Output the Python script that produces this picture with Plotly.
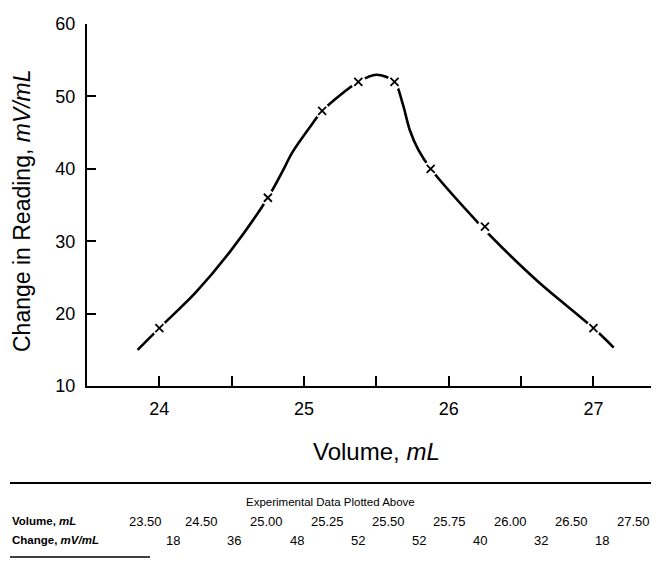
import plotly.graph_objects as go

# ---- data ----
volume_labels = ["23.50", "24.50", "25.00", "25.25", "25.50", "25.75", "26.00", "26.50", "27.50"]
volumes = [23.50, 24.50, 25.00, 25.25, 25.50, 25.75, 26.00, 26.50, 27.50]
changes = [18, 36, 48, 52, 52, 40, 32, 18]
# hand-drawn smooth curve (guide points)
curve_x = [23.85, 24.0, 24.25, 24.49, 24.75, 24.85, 24.92, 25.06, 25.125, 25.375, 25.5, 25.625,
           25.68, 25.73, 25.79, 25.875, 26.2, 26.37, 26.63, 27.0, 27.14]
curve_y = [15.0, 18, 22.9, 28.6, 36, 39.6, 42.3, 46.3, 48, 52, 53, 52,
           49.1, 45.4, 42.6, 40, 32.6, 29.1, 24.2, 18, 15.3]
x_ticks = [24, 24.5, 25, 25.5, 26, 26.5, 27]
x_tick_text = ["24", "", "25", "", "26", "", "27"]
y_ticks = [10, 20, 30, 40, 50, 60]

# midpoints where the derivative values are plotted
mid_x = [(volumes[i] + volumes[i + 1]) / 2 for i in range(len(volumes) - 1)]

FONT = "Liberation Sans, Arial, Helvetica, sans-serif"
OFF = 8                      # page body margin
SW, SH = 659, 568            # screen size
L, R, T, B = 87, 4, 24, 182  # screen-based plot box
PW, PH = SW - L - R, SH - T - B


def px(x):
    return (x - L) / PW


def py(y):
    return (SH - B - y) / PH


fig = go.Figure()
fig.add_trace(go.Scatter(x=curve_x, y=curve_y, mode="lines",
                         line=dict(color="black", width=2.6, shape="spline", smoothing=0.9),
                         hoverinfo="skip", showlegend=False))
fig.add_trace(go.Scatter(x=mid_x, y=changes, mode="markers",
                         marker=dict(symbol="circle", size=15, color="white", line=dict(width=0)),
                         hoverinfo="skip", showlegend=False))
fig.add_trace(go.Scatter(x=mid_x, y=changes, mode="markers",
                         marker=dict(symbol="x-thin", size=8, color="black",
                                     line=dict(width=1.8, color="black")),
                         showlegend=False))

fig.update_xaxes(range=[23.5, 23.5 + PW / 144.7], tickvals=x_ticks, ticktext=x_tick_text,
                 ticks="inside", ticklen=10, tickwidth=1.6, tickcolor="black",
                 showline=True, linecolor="black", linewidth=2, showgrid=False, zeroline=False,
                 tickfont=dict(family=FONT, size=18, color="black"), ticklabelstandoff=5)
fig.update_yaxes(range=[10, 60], tickvals=y_ticks,
                 ticks="inside", ticklen=9, tickwidth=1.6, tickcolor="black",
                 showline=True, linecolor="black", linewidth=2, showgrid=False, zeroline=False,
                 tickfont=dict(family=FONT, size=18, color="black"), ticklabelstandoff=6)

ann = []
ann.append(dict(text="Volume, <i>mL</i>", x=px(376), y=py(451), xref="paper", yref="paper",
                showarrow=False, font=dict(family=FONT, size=24, color="black"),
                xanchor="center", yanchor="middle"))
ann.append(dict(text="Change in Reading, <i>mV/mL</i>", x=px(22), y=py(211), xref="paper", yref="paper",
                showarrow=False, textangle=-90, font=dict(family=FONT, size=23, color="black"),
                xanchor="center", yanchor="middle", borderpad=0))
ann.append(dict(text="Experimental Data Plotted Above", x=px(330), y=py(502), xref="paper", yref="paper",
                showarrow=False, font=dict(family=FONT, size=11.5, color="black"),
                xanchor="center", yanchor="middle"))
ann.append(dict(text="<b>Volume, <i>mL</i></b>", x=px(10), y=py(521), xref="paper", yref="paper",
                showarrow=False, font=dict(family=FONT, size=11.5, color="black"),
                xanchor="left", yanchor="middle"))
ann.append(dict(text="<b>Change, <i>mV/mL</i></b>", x=px(10), y=py(540), xref="paper", yref="paper",
                showarrow=False, font=dict(family=FONT, size=11.5, color="black"),
                xanchor="left", yanchor="middle"))

col_x = [145, 201, 266, 327, 388, 449, 510, 571, 633]
for cx, lab in zip(col_x, volume_labels):
    ann.append(dict(text=lab, x=px(cx), y=py(521), xref="paper", yref="paper", showarrow=False,
                    font=dict(family=FONT, size=13, color="black"), xanchor="center", yanchor="middle"))
for i, v in enumerate(changes):
    cx = (col_x[i] + col_x[i + 1]) / 2
    ann.append(dict(text=str(v), x=px(cx), y=py(540), xref="paper", yref="paper", showarrow=False,
                    font=dict(family=FONT, size=13, color="black"), xanchor="center", yanchor="middle"))

shapes = [
    dict(type="line", xref="paper", yref="paper", x0=px(10), x1=px(659), y0=py(483), y1=py(483),
         line=dict(color="black", width=2)),
    dict(type="line", xref="paper", yref="paper", x0=px(10), x1=px(150), y0=py(557), y1=py(557),
         line=dict(color="black", width=1.5)),
]

fig.update_layout(width=SW - OFF, height=SH - OFF,
                  margin=dict(l=L - OFF, r=R, t=T - OFF, b=B),
                  paper_bgcolor="white", plot_bgcolor="white",
                  annotations=ann, shapes=shapes, showlegend=False)

fig.write_html("out.html")
